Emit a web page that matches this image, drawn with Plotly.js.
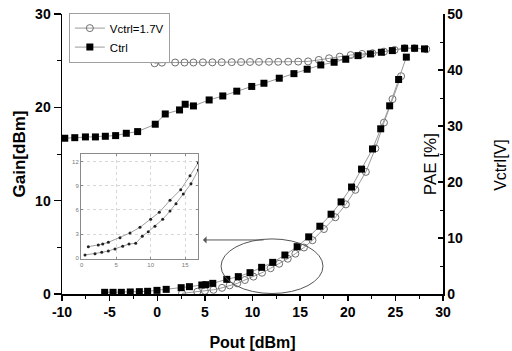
<!DOCTYPE html>
<html>
<head>
<meta charset="utf-8">
<script src="https://cdn.plot.ly/plotly-3.0.1.min.js"></script>
<style>
html,body{margin:0;padding:0;background:#fff;}
#chart{width:512px;height:351px;}
</style>
</head>
<body>
<div id="chart"></div>
<script>
// Gain vs Pout, Vctrl = 1.7 V (open circles)
const poutGainVctrl = [-0.28, 0.49, 1.88, 2.86, 3.80, 4.79, 5.79, 6.77, 7.82, 8.80, 9.74, 10.68, 11.73, 12.70, 13.75, 14.80, 15.84, 16.96, 18.04, 19.16, 20.31, 21.50, 22.59, 23.80, 24.92, 25.97, 27.00, 28.24];
const gainVctrl = [24.72, 24.79, 24.80, 24.80, 24.80, 24.82, 24.82, 24.83, 24.84, 24.85, 24.86, 24.87, 24.88, 24.88, 24.89, 24.90, 24.92, 25.08, 25.26, 25.43, 25.60, 25.72, 25.80, 25.97, 26.15, 26.33, 26.33, 26.22];

// Gain vs Pout, Ctrl (filled squares)
const poutGainCtrl = [-9.71, -8.66, -7.54, -6.49, -5.45, -4.37, -3.25, -2.06, -0.21, 0.84, 2.34, 2.93, 3.80, 5.45, 6.88, 8.35, 9.92, 11.20, 12.81, 14.35, 15.74, 17.17, 18.57, 19.79, 21.08, 22.38, 23.53, 24.68, 25.97, 27.02, 28.06];
const gainCtrl = [16.69, 16.75, 16.83, 16.83, 16.90, 16.97, 17.22, 17.40, 18.19, 19.29, 19.72, 20.33, 20.15, 20.79, 21.22, 21.73, 22.24, 22.58, 23.12, 23.61, 24.08, 24.54, 24.83, 25.15, 25.54, 25.72, 25.90, 26.08, 26.33, 26.33, 26.26];

// PAE vs Pout, Vctrl = 1.7 V (open circles)
const poutPaeVctrl = [2.6, 4.2, 5.0, 5.9, 6.8, 7.6, 8.4, 9.2, 10.1, 11.0, 11.9, 12.8, 13.7, 14.5, 15.4, 16.3, 17.5, 18.7, 19.8, 20.8, 21.9, 22.9, 23.8, 24.7, 25.6];
const paeVctrl = [0.12, 0.4, 0.55, 0.75, 1.1, 1.55, 1.9, 2.5, 3.1, 3.8, 4.6, 5.4, 6.3, 7.2, 8.3, 9.6, 11.6, 13.7, 16.0, 18.6, 21.8, 26.0, 30.6, 34.8, 38.9];

// PAE vs Pout, Ctrl (filled squares)
const poutPaeCtrl = [-5.52, -4.64, -3.77, -2.83, -1.88, -1.01, -0.03, 0.94, 2.51, 3.38, 4.68, 5.10, 5.83, 7.30, 8.51, 9.74, 10.96, 12.12, 13.40, 14.69, 15.90, 17.07, 18.25, 19.30, 20.40, 21.45, 22.60, 23.46, 24.40, 25.34, 26.15];
const paeCtrl = [0.30, 0.30, 0.30, 0.36, 0.42, 0.48, 0.65, 0.83, 1.13, 1.31, 1.61, 1.67, 1.90, 2.62, 3.10, 3.81, 4.76, 5.65, 6.96, 8.45, 10.2, 12.1, 14.25, 16.45, 19.1, 22.3, 25.9, 29.5, 33.6, 38.3, 42.3];

// Inset (zoom of low-power PAE)
const insetPoutUpper = [0.96, 2.41, 3.04, 3.86, 5.55, 7.00, 8.45, 10.0, 11.25, 12.8, 14.35, 15.7, 16.9];
const insetPaeUpper = [1.44, 1.65, 1.77, 1.98, 2.56, 3.14, 3.84, 4.83, 5.70, 7.19, 8.50, 10.24, 11.85];
const insetPoutLower = [0.48, 1.93, 2.90, 3.86, 4.83, 5.94, 6.86, 7.83, 8.78, 9.65, 10.62, 11.74, 12.8, 13.67, 14.73, 15.84, 16.9];
const insetPaeLower = [0.41, 0.57, 0.74, 0.90, 1.15, 1.48, 1.77, 1.86, 2.72, 3.30, 3.96, 4.83, 5.86, 6.77, 7.97, 9.24, 10.94];

// Tick labels
const xTickVals = [-10, -5, 0, 5, 10, 15, 20, 25, 30];
const xTickText = ['-10', '-5', '0', '5', '10', '15', '20', '25', '30'];

const legendNames = ['Vctrl=1.7V', 'Ctrl'];

const FONT = 'Arial, "Liberation Sans", sans-serif';
const lineGray = '#9a9a9a';

const traces = [
  {x: poutGainVctrl, y: gainVctrl, name: legendNames[0], mode: 'lines+markers', xaxis: 'x', yaxis: 'y',
   line: {color: lineGray, width: 1}, marker: {symbol: 'circle-open', size: 7, color: '#6e6e6e', line: {width: 1}}},
  {x: poutGainCtrl, y: gainCtrl, name: legendNames[1], mode: 'lines+markers', xaxis: 'x', yaxis: 'y',
   line: {color: lineGray, width: 1}, marker: {symbol: 'square', size: 7, color: '#000'}},
  {x: poutPaeVctrl, y: paeVctrl, mode: 'lines+markers', xaxis: 'x', yaxis: 'y2', showlegend: false,
   line: {color: lineGray, width: 1}, marker: {symbol: 'circle-open', size: 7, color: '#6e6e6e', line: {width: 1}}},
  {x: poutPaeCtrl, y: paeCtrl, mode: 'lines+markers', xaxis: 'x', yaxis: 'y2', showlegend: false,
   line: {color: lineGray, width: 1}, marker: {symbol: 'square', size: 7, color: '#000'}},
  {x: insetPoutUpper, y: insetPaeUpper, mode: 'lines+markers', xaxis: 'x3', yaxis: 'y3', showlegend: false,
   line: {color: '#a0a0a0', width: 1}, marker: {symbol: 'circle', size: 3, color: '#222'}},
  {x: insetPoutLower, y: insetPaeLower, mode: 'lines+markers', xaxis: 'x3', yaxis: 'y3', showlegend: false,
   line: {color: '#a0a0a0', width: 1}, marker: {symbol: 'circle', size: 3, color: '#222'}}
];

const tickFont = {family: FONT, size: 14, color: '#000', weight: 'bold'};

const layout = {
  width: 512, height: 351,
  margin: {l: 62, r: 69, t: 14, b: 57, pad: 0},
  paper_bgcolor: '#fff', plot_bgcolor: 'rgba(0,0,0,0)',
  font: {family: FONT, color: '#000'},
  showlegend: true,
  legend: {x: 0.018, y: 1.005, xanchor: 'left', yanchor: 'top', bgcolor: '#fff',
    bordercolor: '#a0a0a0', borderwidth: 1, font: {family: FONT, size: 11.5, color: '#000'},
    tracegroupgap: 0, itemwidth: 30},
  xaxis: {range: [-10, 30], tickmode: 'array', tickvals: xTickVals, ticktext: xTickText,
    showgrid: false, zeroline: false,
    showline: true, linecolor: '#000', linewidth: 1.5, ticks: 'outside', ticklen: 5, tickwidth: 1.5, tickcolor: '#000',
    minor: {dtick: 2.5, tick0: -10, ticks: 'outside', ticklen: 3, tickcolor: '#000', tickwidth: 1},
    tickfont: tickFont,
    title: {text: 'Pout [dBm]', font: {family: FONT, size: 16, color: '#000', weight: 'bold'}, standoff: 20},
    automargin: false, fixedrange: true},
  yaxis: {range: [0, 30], dtick: 10, showgrid: false, zeroline: false,
    showline: true, linecolor: '#000', linewidth: 1.5, ticks: 'outside', ticklen: 7, tickwidth: 1.5, tickcolor: '#000',
    minor: {dtick: 5, ticks: 'outside', ticklen: 4, tickcolor: '#000', tickwidth: 1},
    tickfont: tickFont,
    title: {text: 'Gain[dBm]', font: {family: FONT, size: 17, color: '#000', weight: 'bold'}, standoff: 5},
    automargin: false, fixedrange: true},
  yaxis2: {range: [0, 50], dtick: 10, overlaying: 'y', side: 'right', anchor: 'x', showgrid: false, zeroline: false,
    showline: true, linecolor: '#000', linewidth: 1.5, ticks: 'inside', ticklen: 5, tickwidth: 1.5, tickcolor: '#000',
    minor: {dtick: 5, ticks: 'inside', ticklen: 3, tickcolor: '#000', tickwidth: 1},
    tickfont: tickFont, automargin: false, fixedrange: true},
  xaxis3: {domain: [0.0499, 0.3577], anchor: 'y3', range: [-0.1, 16.9], dtick: 5, tick0: 0,
    showgrid: true, gridcolor: '#d8d8d8', griddash: 'dot', gridwidth: 1, zeroline: false,
    showline: true, mirror: 'ticks', linecolor: '#8a8a8a', linewidth: 1,
    ticks: 'inside', ticklen: 2, tickcolor: '#8a8a8a',
    tickfont: {family: FONT, size: 6, color: '#777'}, automargin: false, fixedrange: true},
  yaxis3: {domain: [0.1246, 0.4993], anchor: 'x3', range: [-0.1, 12.9], dtick: 3, tick0: 0,
    showgrid: true, gridcolor: '#d8d8d8', griddash: 'dot', gridwidth: 1, zeroline: false,
    showline: true, mirror: 'ticks', linecolor: '#8a8a8a', linewidth: 1,
    ticks: 'inside', ticklen: 2, tickcolor: '#8a8a8a',
    tickfont: {family: FONT, size: 6, color: '#777'}, automargin: false, fixedrange: true},
  shapes: [
    {type: 'circle', xref: 'x', yref: 'y', x0: 6.7, x1: 17.4, y0: 0.05, y1: 5.9,
     line: {color: '#555', width: 1}, fillcolor: 'rgba(0,0,0,0)'}
  ],
  annotations: [
    {xref: 'x', yref: 'y', x: 4.8, y: 5.79, ax: 62, ay: 0, text: '', showarrow: true,
     arrowhead: 1, arrowsize: 1.2, arrowwidth: 1, arrowcolor: '#555'},
    {xref: 'paper', yref: 'paper', x: 0.966, y: 0.464, xanchor: 'center', yanchor: 'middle',
     text: 'PAE [%]', showarrow: false, textangle: -90,
     font: {family: FONT, size: 17, color: '#000'}},
    {xref: 'paper', yref: 'paper', x: 1.152, y: 0.461, xanchor: 'center', yanchor: 'middle',
     text: 'Vctrl[V]', showarrow: false, textangle: -90,
     font: {family: FONT, size: 16, color: '#000'}}
  ]
};

Plotly.newPlot('chart', traces, layout, {displayModeBar: false, staticPlot: true});
</script>
</body>
</html>
